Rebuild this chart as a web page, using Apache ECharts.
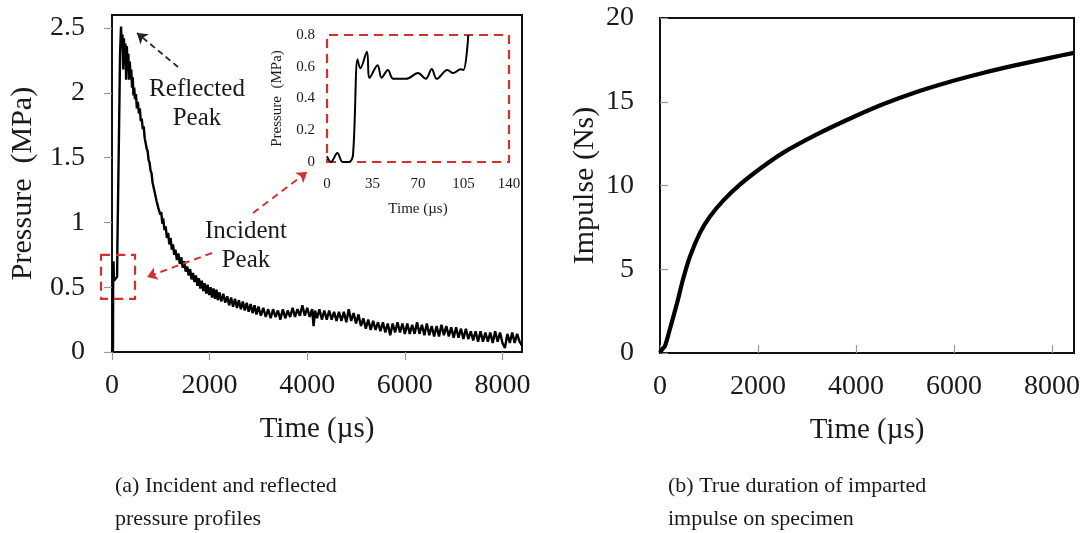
<!DOCTYPE html>
<html>
<head>
<meta charset="utf-8">
<script src="https://cdn.jsdelivr.net/npm/echarts@6/dist/echarts.min.js"></script>
<style>
html,body{margin:0;padding:0;background:#fff;}
#c{width:1086px;height:533px;}
</style>
</head>
<body>
<div id="c"></div>
<script>
// ---------- data ----------
const pressureTime = [0,10,16,20,24,31,40,70,105,110,140,165,185,200,215,230,245,260,275,290,305,320,335,350,365,380,395,410,425,440,455,470,490,510,530,550,570,590,610,630,650,670,690,710,730,750,770,790,810,830,850,870,890,910,930,950,970,990,1010,1030,1050,1075,1100,1125,1150,1175,1200,1225,1250,1275,1300,1330,1360,1390,1420,1450,1480,1510,1540,1570,1600,1630,1660,1690,1720,1750,1780,1810,1840,1870,1900,1930,1960,1990,2020,2050,2080,2110,2140,2170,2200,2240,2280,2320,2360,2400,2440,2480,2520,2560,2600,2640,2680,2720,2760,2800,2840,2880,2920,2960,3000,3050,3100,3150,3200,3250,3300,3350,3400,3450,3500,3550,3600,3650,3700,3750,3800,3850,3900,3950,4000,4050,4100,4130,4160,4200,4250,4300,4350,4400,4450,4500,4550,4600,4650,4700,4750,4800,4850,4900,4950,5000,5050,5100,5150,5200,5250,5300,5350,5400,5450,5500,5550,5600,5650,5700,5750,5800,5850,5900,5950,6000,6050,6100,6150,6200,6250,6300,6350,6400,6450,6500,6550,6600,6650,6700,6750,6800,6850,6900,6950,7000,7050,7100,7150,7200,7250,7300,7350,7400,7450,7500,7550,7600,7650,7700,7750,7800,7850,7900,7950,8000,8050,8100,8150,8200,8250,8300,8350,8400];
const pressureVals = [0,0.03,0,0.02,0.64,0.70,0.55,0.55,0.58,0.80,1.60,2.30,2.51,2.35,2.45,2.18,2.42,2.22,2.38,2.10,2.36,2.18,2.30,2.10,2.24,2.12,2.18,2.04,2.12,1.98,2.04,1.95,1.99,1.88,1.93,1.84,1.88,1.78,1.80,1.72,1.74,1.65,1.64,1.57,1.55,1.48,1.46,1.40,1.38,1.31,1.30,1.24,1.23,1.17,1.17,1.11,1.12,1.06,1.08,0.99,1.03,0.94,0.97,0.88,0.92,0.83,0.88,0.79,0.83,0.75,0.79,0.71,0.76,0.68,0.73,0.65,0.70,0.62,0.66,0.59,0.64,0.56,0.61,0.54,0.59,0.51,0.57,0.49,0.55,0.47,0.53,0.45,0.52,0.44,0.50,0.42,0.49,0.41,0.48,0.40,0.46,0.39,0.45,0.38,0.43,0.36,0.42,0.35,0.41,0.34,0.40,0.33,0.39,0.32,0.38,0.31,0.37,0.30,0.36,0.29,0.35,0.28,0.34,0.27,0.33,0.26,0.33,0.27,0.32,0.25,0.33,0.26,0.32,0.27,0.34,0.27,0.33,0.28,0.36,0.28,0.34,0.27,0.33,0.20,0.32,0.26,0.33,0.25,0.32,0.25,0.32,0.25,0.31,0.24,0.31,0.24,0.31,0.23,0.33,0.24,0.30,0.22,0.29,0.20,0.26,0.18,0.25,0.17,0.24,0.17,0.23,0.16,0.23,0.15,0.22,0.13,0.22,0.15,0.23,0.15,0.22,0.14,0.22,0.14,0.21,0.14,0.23,0.14,0.21,0.13,0.22,0.13,0.20,0.12,0.20,0.12,0.21,0.13,0.20,0.12,0.19,0.11,0.19,0.11,0.18,0.10,0.18,0.10,0.16,0.09,0.16,0.08,0.16,0.08,0.15,0.08,0.15,0.07,0.16,0.08,0.15,0.07,0.03,0.14,0.07,0.15,0.07,0.14,0.08,0.05];

const insetTime = [0,3,8,12,17,20,23.5,25.6,30.7,32.8,38.9,42,46.8,51,61,70,76,80.6,84.4,92.6,97,102.8,105,108.7];
const insetVals = [0.035,0,0.057,0,0,0.045,0.647,0.59,0.695,0.53,0.61,0.53,0.58,0.524,0.524,0.56,0.524,0.586,0.524,0.58,0.56,0.584,0.58,0.8];

const impulseTime = [0,50,100,200,350,470,610,820,1020,1290,1630,2040,2510,3200,3880,4550,5250,5920,6590,7290,7960,8450];
const impulseVals = [0,0.25,0.4,1.4,3.0,4.4,5.75,7.2,8.15,9.1,10.05,11.0,11.95,13.05,14.0,14.85,15.6,16.2,16.72,17.2,17.62,17.92];

const timeTicks = [0,2000,4000,6000,8000];
const pressureTicks = [0,0.5,1,1.5,2,2.5];
const impulseTicks = [0,5,10,15,20];

// annotation anchors (data coordinates of main pressure chart)
const reflectedArrow = [[1352,2.199],[512,2.461]];
const incidentArrowBox = [[2049,0.764],[717,0.579]];
const incidentArrowInset = [[2889,1.073],[3996,1.389]];
const incidentBox = [[-225,0.75],[471,0.41]];

// ---------- chart ----------
const FONT = "'Liberation Serif','Times New Roman',serif";
const RED = '#d32f2f';
const pair = (a, b) => a.map((v, i) => [v, b[i]]);
const plain = v => String(v);

const chart = echarts.init(document.getElementById('c'), null, {renderer: 'canvas'});

const mainAxisLabel = {fontFamily: FONT, fontSize: 28, color: '#1a1a1a', formatter: plain};

const option = {
  animation: false,
  backgroundColor: '#fff',
  grid: [
    {left: 112, top: 15, width: 410, height: 337, show: true, borderColor: '#111', borderWidth: 2, backgroundColor: 'transparent', outerBoundsMode: 'none', containLabel: false},
    {left: 660, top: 18, width: 414, height: 335, show: true, borderColor: '#111', borderWidth: 2, backgroundColor: 'transparent', outerBoundsMode: 'none', containLabel: false},
    {left: 327, top: 35, width: 182, height: 127, show: false, outerBoundsMode: 'none', containLabel: false}
  ],
  xAxis: [
    {gridIndex: 0, type: 'value', min: 0, max: 8400,
     axisLine: {show: false}, splitLine: {show: false},
     axisTick: {show: true, inside: false, length: 8, lineStyle: {color: '#999', width: 1.2}, customValues: timeTicks},
     axisLabel: Object.assign({margin: 20, customValues: timeTicks}, mainAxisLabel),
     name: 'Time (µs)', nameLocation: 'middle', nameGap: 63,
     nameTextStyle: {fontFamily: FONT, fontSize: 29, color: '#1a1a1a'}},
    {gridIndex: 1, type: 'value', min: 0, max: 8450,
     axisLine: {show: false}, splitLine: {show: false},
     axisTick: {show: true, inside: true, length: 8, lineStyle: {color: '#999', width: 1.2}, customValues: timeTicks},
     axisLabel: Object.assign({margin: 20, customValues: timeTicks}, mainAxisLabel),
     name: 'Time (µs)', nameLocation: 'middle', nameGap: 63,
     nameTextStyle: {fontFamily: FONT, fontSize: 29, color: '#1a1a1a'}},
    {gridIndex: 2, type: 'value', min: 0, max: 140, interval: 35,
     axisLine: {show: false}, splitLine: {show: false}, axisTick: {show: false},
     axisLabel: {margin: 15, fontFamily: FONT, fontSize: 15, color: '#1a1a1a'},
     name: 'Time (µs)', nameLocation: 'middle', nameGap: 40,
     nameTextStyle: {fontFamily: FONT, fontSize: 15, color: '#1a1a1a'}}
  ],
  yAxis: [
    {gridIndex: 0, type: 'value', min: 0, max: 2.6,
     axisLine: {show: false}, splitLine: {show: false},
     axisTick: {show: true, inside: false, length: 8, lineStyle: {color: '#999', width: 1.2}, customValues: pressureTicks},
     axisLabel: Object.assign({margin: 27, customValues: pressureTicks}, mainAxisLabel),
     name: 'Pressure  (MPa)', nameLocation: 'middle', nameGap: 74,
     nameTextStyle: {fontFamily: FONT, fontSize: 30, color: '#1a1a1a'}},
    {gridIndex: 1, type: 'value', min: 0, max: 20,
     axisLine: {show: false}, splitLine: {show: false},
     axisTick: {show: true, inside: true, length: 8, lineStyle: {color: '#999', width: 1.2}, customValues: impulseTicks},
     axisLabel: Object.assign({margin: 26, customValues: impulseTicks}, mainAxisLabel),
     name: 'Impulse (Ns)', nameLocation: 'middle', nameGap: 60,
     nameTextStyle: {fontFamily: FONT, fontSize: 30, color: '#1a1a1a'}},
    {gridIndex: 2, type: 'value', min: 0, max: 0.8, interval: 0.2,
     axisLine: {show: false}, splitLine: {show: false}, axisTick: {show: false},
     axisLabel: {margin: 12, fontFamily: FONT, fontSize: 15, color: '#1a1a1a'},
     name: 'Pressure  (MPa)', nameLocation: 'middle', nameGap: 42,
     nameTextStyle: {fontFamily: FONT, fontSize: 15, color: '#1a1a1a'}}
  ],
  series: [
    {type: 'line', xAxisIndex: 0, yAxisIndex: 0, data: pair(pressureTime, pressureVals),
     showSymbol: false, symbol: 'none', lineStyle: {color: '#000', width: 2.4}, z: 3,
     markLine: {silent: true, symbol: ['none', 'arrow'], symbolSize: 10, label: {show: false},
       lineStyle: {color: '#222', width: 1.8, type: [6, 4]},
       data: [[{coord: reflectedArrow[0]}, {coord: reflectedArrow[1]}]]}},
    {type: 'line', xAxisIndex: 0, yAxisIndex: 0, data: [], showSymbol: false,
     markLine: {silent: true, symbol: ['none', 'arrow'], symbolSize: 10, label: {show: false},
       lineStyle: {color: RED, width: 2, type: [7, 5]},
       data: [[{coord: incidentArrowBox[0]}, {coord: incidentArrowBox[1]}],
              [{coord: incidentArrowInset[0]}, {coord: incidentArrowInset[1]}]]}},
    {type: 'line', xAxisIndex: 2, yAxisIndex: 2, data: pair(insetTime, insetVals),
     showSymbol: false, symbol: 'none', smooth: 0.35, lineStyle: {color: '#000', width: 2}, z: 3,
     markArea: {silent: true, itemStyle: {color: 'rgba(0,0,0,0)', borderColor: RED, borderWidth: 2.2, borderType: [9, 6]},
       data: [[{coord: [0, 0]}, {coord: [140, 0.8]}]]}},
    {type: 'line', xAxisIndex: 1, yAxisIndex: 1, data: pair(impulseTime, impulseVals),
     showSymbol: false, symbol: 'none', smooth: 0.25, lineStyle: {color: '#000', width: 4.2}, z: 3}
  ]
};
chart.setOption(option);

// annotation graphics positioned through the chart's own scales
const b0 = chart.convertToPixel({gridIndex: 0}, incidentBox[0]);
const b1 = chart.convertToPixel({gridIndex: 0}, incidentBox[1]);
const txt = (text, x, y, size, align) => ({type: 'text', x: x, y: y, silent: true,
  style: {text: text, fontFamily: FONT, fontSize: size, fill: '#1a1a1a', align: align || 'center', verticalAlign: 'middle'}});
chart.setOption({graphic: [
  {type: 'rect', silent: true, shape: {x: b0[0], y: b0[1], width: b1[0] - b0[0], height: b1[1] - b0[1]},
   style: {fill: 'none', stroke: RED, lineWidth: 2.2, lineDash: [9, 6]}, z: 10},
  txt('Reflected', 197, 89, 25), txt('Peak', 197, 118, 25),
  txt('Incident', 246, 231, 25), txt('Peak', 246, 260, 25),
  txt('(a) Incident and reflected', 115, 486, 22, 'left'),
  txt('pressure profiles', 115, 519, 22, 'left'),
  txt('(b) True duration of imparted', 668, 486, 22, 'left'),
  txt('impulse on specimen', 668, 519, 22, 'left')
]});
</script>
</body>
</html>
